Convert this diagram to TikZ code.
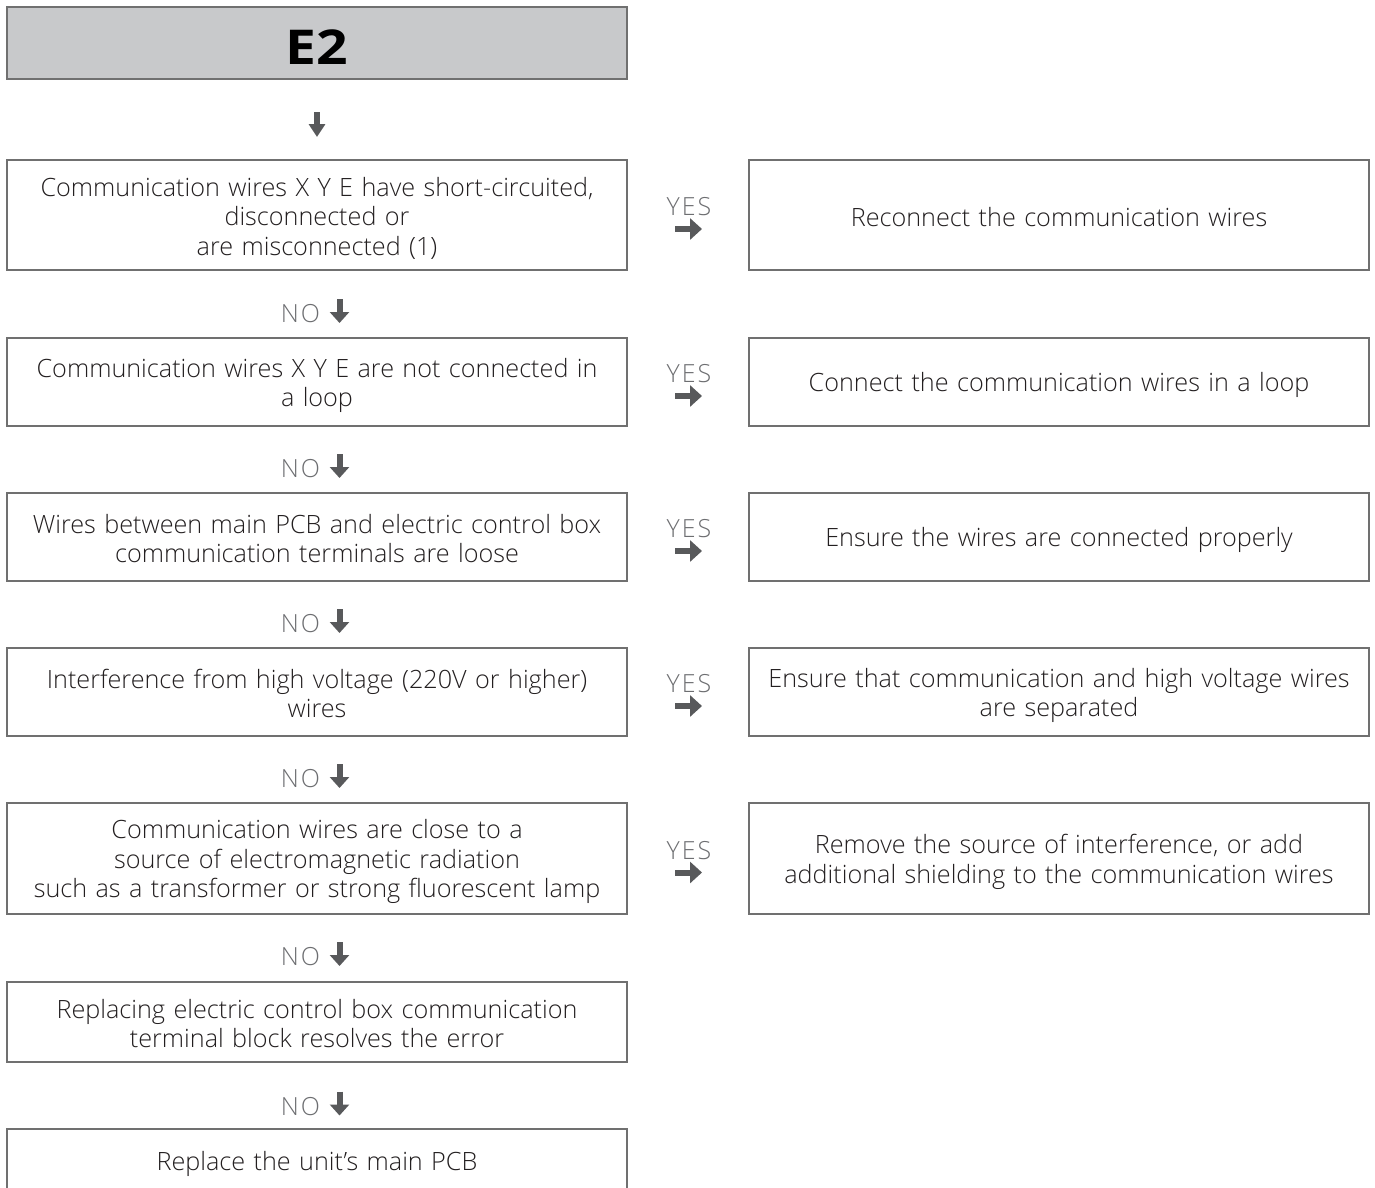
\documentclass[tikz,border=0pt]{standalone}
\usepackage{fontspec}
\setmainfont{Open Sans}[UprightFont=* Light, BoldFont=* Bold]
\newfontfamily\headfont{Open Sans}[UprightFont=* Bold, FakeStretch=1.15]
\newfontfamily\labfont{Open Sans}[UprightFont=* Light, LetterSpace=8]
\usetikzlibrary{arrows.meta}
\definecolor{boxline}{HTML}{707070}
\definecolor{headfill}{HTML}{C8C9CB}
\definecolor{txt}{HTML}{231F20}
\definecolor{lbl}{HTML}{6D6E71}
\definecolor{arr}{HTML}{58595B}
\newcommand\linestrut{\rule[-3.75pt]{0pt}{29.5pt}}
\newcommand\boxsetup{\lineskiplimit=-100pt\relax\linestrut}
\tikzset{
  box/.style={draw=boxline, line width=1.3pt, minimum width=620pt, text width=615pt, align=center, inner sep=0pt, text=txt,
    font=\fontsize{25.2}{29.5}\selectfont,
    execute at begin node=\boxsetup, execute at end node=\linestrut},
  headbox/.style={draw=boxline, line width=1.3pt, minimum width=620pt, inner sep=0pt, fill=headfill, text height=42pt, text depth=0pt, font=\headfont\fontsize{48}{50}\selectfont, text=black},
  lab/.style={text=lbl, inner sep=0pt, font=\labfont\fontsize{25}{28}\selectfont},
  darrow/.style={draw=arr, line width=6pt, -{Triangle[length=11pt, width=19pt]}},
  toparrow/.style={draw=arr, line width=6pt, -{Triangle[length=13pt, width=16pt]}},
  rarrow/.style={draw=arr, line width=6pt, -{Triangle[length=12pt, width=21pt]}}
}
\begin{document}
\begin{tikzpicture}[x=1pt, y=-1pt]
\useasboundingbox (0,0) rectangle (1375,1187);
% left column
\node[headbox, minimum height=72pt] (e2) at (317,43) {E2};
\node[box, minimum height=110pt] (b1) at (317,215) {Communication wires X Y E have short-circuited,\\ disconnected or\\ are misconnected (1)};
\node[box, minimum height=88pt] (b2) at (317,382) {Communication wires X Y E are not connected in\\ a loop};
\node[box, minimum height=88pt] (b3) at (317,537) {Wires between main PCB and electric control box\\ communication terminals are loose};
\node[box, minimum height=88pt] (b4) at (317,692) {Interference from high voltage (220V or higher)\\ wires};
\node[box, minimum height=111pt] (b5) at (317,858.5) {Communication wires are close to a\\ source of electromagnetic radiation\\ such as a transformer or strong fluorescent lamp};
\node[box, minimum height=80pt] (b6) at (317,1022) {Replacing electric control box communication\\ terminal block resolves the error};
\node[box, minimum height=64pt] (b7) at (317,1161) {Replace the unit’s main PCB};
% right column
\node[box, minimum height=110pt] (r1) at (1059,215) {Reconnect the communication wires};
\node[box, minimum height=88pt] (r2) at (1059,382) {Connect the communication wires in a loop};
\node[box, minimum height=88pt] (r3) at (1059,537) {Ensure the wires are connected properly};
\node[box, minimum height=88pt] (r4) at (1059,692) {Ensure that communication and high voltage wires\\ are separated};
\node[box, minimum height=111pt] (r5) at (1059,858.5) {Remove the source of interference, or add\\ additional shielding to the communication wires};
% top arrow
\coordinate (a0s) at (317,112);
\coordinate (a0e) at (317,137);
\draw[toparrow] (a0s) -- (a0e);
% NO labels and arrows
\foreach \i/\y in {1/314,2/469,3/624,4/779,5/957,6/1106.5}{
  \node[lab] (no\i) at (300.5,\y) {NO};
  \coordinate (na\i s) at (339.5,\y-15);
  \coordinate (na\i e) at (339.5,\y+9);
  \draw[darrow] (na\i s) -- (na\i e);
}
% YES labels and arrows
\foreach \i/\y in {1/215,2/382,3/537,4/692,5/858.5}{
  \node[lab] (yes\i) at (689,\y-8) {YES};
  \coordinate (ya\i s) at (675,\y+14);
  \coordinate (ya\i e) at (702,\y+14);
  \draw[rarrow] (ya\i s) -- (ya\i e);
}
\end{tikzpicture}
\end{document}
